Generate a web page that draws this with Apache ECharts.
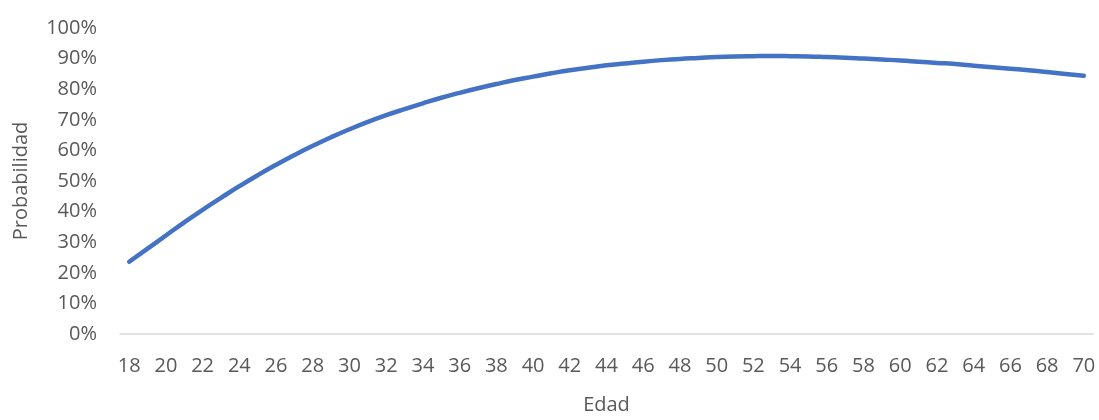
<!DOCTYPE html>
<html>
<head>
<meta charset="utf-8">
<script src="https://cdn.jsdelivr.net/npm/echarts@6/dist/echarts.min.js"></script>
<style>
  html, body { margin: 0; padding: 0; background: #ffffff; }
  #chart { width: 1099px; height: 420px; }
</style>
</head>
<body>
<div id="chart"></div>
<script>
// Ages on the horizontal axis (every year, labelled every other year)
const ages = [];
for (let a = 18; a <= 70; a++) ages.push(String(a));

// Estimated probability (%) for each age, 18 through 70
const probabilidad = [
  23.6, 27.9, 32.2, 36.5, 40.6, 44.5, 48.3, 51.9, 55.3, 58.5,
  61.5, 64.3, 66.9, 69.3, 71.5, 73.5, 75.4, 77.2, 78.8, 80.3,
  81.7, 83.0, 84.1, 85.2, 86.2, 87.0, 87.8, 88.4, 89.0, 89.5,
  89.9, 90.2, 90.5, 90.7, 90.8, 90.85, 90.8, 90.7, 90.5, 90.3,
  90.0, 89.7, 89.4, 89.0, 88.6, 88.2, 87.7, 87.2, 86.7, 86.2,
  85.6, 85.0, 84.4
];

// Vertical axis range and step, in percent
const yMin = 0, yMax = 100, yStep = 10;

const textColor = '#595959';
const font = '"Open Sans", "Noto Sans", sans-serif';

const chart = echarts.init(document.getElementById('chart'), null, { renderer: 'canvas' });
chart.setOption({
  animation: false,
  backgroundColor: '#ffffff',
  grid: { left: 120, right: 6, top: 28, bottom: 77, containLabel: false },
  xAxis: {
    type: 'category',
    data: ages,
    boundaryGap: true,
    name: 'Edad',
    nameLocation: 'middle',
    nameGap: 61,
    nameTextStyle: { color: textColor, fontSize: 20, fontFamily: font },
    axisLine: { show: true, lineStyle: { color: '#d9d9d9', width: 1.5 } },
    axisTick: { show: false },
    axisLabel: { interval: 1, color: textColor, fontSize: 20, fontFamily: font, margin: 22 },
    splitLine: { show: false }
  },
  yAxis: {
    type: 'value',
    min: yMin,
    max: yMax,
    interval: yStep,
    name: 'Probabilidad',
    nameLocation: 'middle',
    nameGap: 89,
    nameRotate: 90,
    nameTextStyle: { color: textColor, fontSize: 20, fontFamily: font },
    axisLine: { show: false },
    axisTick: { show: false },
    axisLabel: { color: textColor, fontSize: 20, fontFamily: font, margin: 23, formatter: '{value}%' },
    splitLine: { show: false }
  },
  series: [{
    type: 'line',
    data: probabilidad,
    smooth: true,
    showSymbol: false,
    lineStyle: { color: '#4472C4', width: 4.5, cap: 'round', join: 'round' },
    itemStyle: { color: '#4472C4' }
  }]
});
</script>
</body>
</html>
